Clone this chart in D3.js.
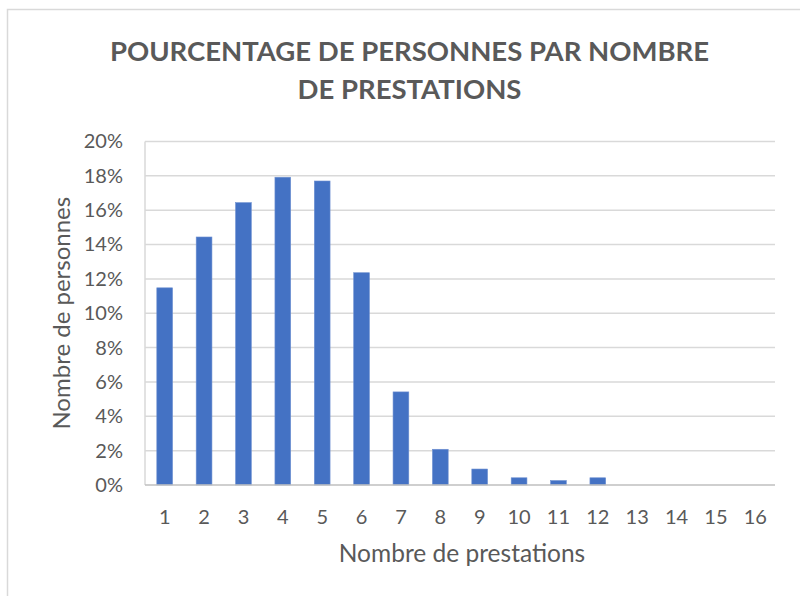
<!DOCTYPE html>
<html>
<head>
<meta charset="utf-8">
<script src="https://cdn.jsdelivr.net/npm/d3@7"></script>
<style>
  html, body { margin: 0; padding: 0; background: #fff; }
  svg { display: block; }
  text { font-family: Lato, "Open Sans", sans-serif; }
</style>
</head>
<body>
<svg id="chart" width="800" height="596"></svg>
<script>
// Number of services received by each person
const categories = ["1","2","3","4","5","6","7","8","9","10","11","12","13","14","15","16"];
// Share of people (%) for each number of services
const shares = [11.48, 14.44, 16.44, 17.92, 17.70, 12.36, 5.42, 2.08, 0.93, 0.42, 0.26, 0.42, 0, 0, 0, 0];
const yTicks = [0, 2, 4, 6, 8, 10, 12, 14, 16, 18, 20];
const titleLines = ["POURCENTAGE DE PERSONNES PAR NOMBRE", "DE PRESTATIONS"];
const xTitle = "Nombre de prestations";
const yTitle = "Nombre de personnes";

const svg = d3.select("#chart");
const plot = { left: 145, right: 775, top: 141.5, bottom: 485 };
const textColor = "#595959";

// chart frame
svg.append("rect")
  .attr("x", 7.5).attr("y", 9.5)
  .attr("width", 820).attr("height", 620)
  .attr("fill", "#fff")
  .attr("stroke", "#d9d9d9").attr("stroke-width", 1.5);

const x = d3.scaleBand()
  .domain(categories)
  .range([plot.left, plot.right])
  .paddingInner(0.6)
  .paddingOuter(0.3);

const y = d3.scaleLinear()
  .domain([0, 20])
  .range([plot.bottom, plot.top]);

// horizontal gridlines
svg.append("g")
  .selectAll("line")
  .data(yTicks.filter(d => d > 0))
  .join("line")
  .attr("x1", plot.left).attr("x2", plot.right)
  .attr("y1", d => y(d)).attr("y2", d => y(d))
  .attr("stroke", "#d9d9d9").attr("stroke-width", 1.5);

// vertical axis line
svg.append("line")
  .attr("x1", plot.left).attr("x2", plot.left)
  .attr("y1", y(20)).attr("y2", y(0))
  .attr("stroke", "#d9d9d9").attr("stroke-width", 1.5);

// bars
svg.append("g")
  .selectAll("rect")
  .data(shares)
  .join("rect")
  .attr("x", (d, i) => x(categories[i]))
  .attr("width", x.bandwidth())
  .attr("y", d => y(d))
  .attr("height", d => y(0) - y(d))
  .attr("fill", "#4472c4")
  .attr("stroke", "#6d8fd0").attr("stroke-width", 0.6);

// horizontal axis line
svg.append("line")
  .attr("x1", plot.left).attr("x2", plot.right)
  .attr("y1", y(0)).attr("y2", y(0))
  .attr("stroke", "#bfbfbf").attr("stroke-width", 1.5);

// y axis labels
const yAxis = d3.axisLeft(y)
  .tickValues(yTicks)
  .tickFormat(d => d + "%")
  .tickSize(0)
  .tickPadding(22);
const gy = svg.append("g").attr("transform", `translate(${plot.left},0)`).call(yAxis);
gy.select(".domain").remove();
gy.selectAll("text")
  .attr("fill", textColor)
  .style("font-size", "20px")
  .style("font-family", "Lato, sans-serif");

// x axis labels
const xAxis = d3.axisBottom(x).tickSize(0).tickPadding(25);
const gx = svg.append("g").attr("transform", `translate(0,${plot.bottom})`).call(xAxis);
gx.select(".domain").remove();
gx.selectAll("text")
  .attr("fill", textColor)
  .style("font-size", "20px")
  .style("font-family", "Lato, sans-serif");

// title
svg.append("g")
  .selectAll("text")
  .data(titleLines)
  .join("text")
  .attr("x", 409.5)
  .attr("y", (d, i) => 61 + i * 38)
  .attr("text-anchor", "middle")
  .attr("fill", textColor)
  .attr("font-weight", "bold")
  .style("font-size", "27.5px")
  .text(d => d);

// axis titles
svg.append("text")
  .attr("x", (plot.left + plot.right) / 2 + 2)
  .attr("y", 562)
  .attr("text-anchor", "middle")
  .attr("fill", textColor)
  .style("font-size", "24.5px")
  .text(xTitle);

svg.append("text")
  .attr("transform", `translate(70,${(plot.top + plot.bottom) / 2}) rotate(-90)`)
  .attr("text-anchor", "middle")
  .attr("fill", textColor)
  .style("font-size", "24px")
  .text(yTitle);
</script>
</body>
</html>
